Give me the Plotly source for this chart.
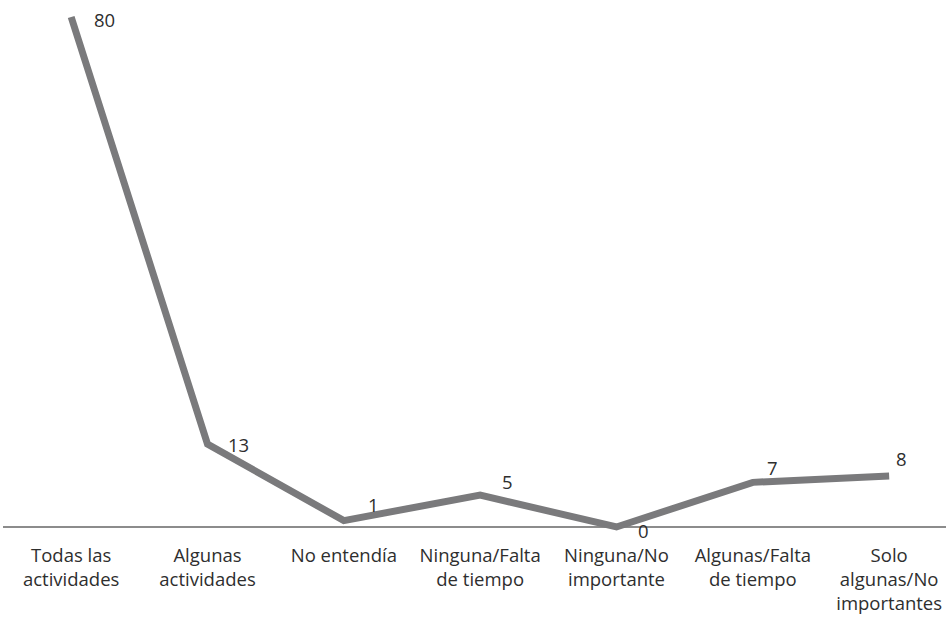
import plotly.graph_objects as go

categories = ["Todas las<br>actividades", "Algunas<br>actividades", "No entendía",
              "Ninguna/Falta<br>de tiempo", "Ninguna/No<br>importante",
              "Algunas/Falta<br>de tiempo", "Solo<br>algunas/No<br>importantes"]
values = [80, 13, 1, 5, 0, 7, 8]
label_shift_x = [33, 31, 30, 27, 27, 20, 12]
label_shift_y = [-3, 0, 16, 14, -4, 15, 17]

FONT = "Open Sans"
x = list(range(len(values)))

fig = go.Figure()
fig.add_trace(go.Scatter(
    x=x, y=values, mode="lines",
    line=dict(color="#7a7a7c", width=7),
    hoverinfo="skip", showlegend=False,
))

for xi, v, dx, dy in zip(x, values, label_shift_x, label_shift_y):
    fig.add_annotation(x=xi, y=v, text=str(v), showarrow=False,
                       xshift=dx, yshift=dy,
                       font=dict(family=FONT, size=18.5, color="#2e2e2e"))

fig.update_layout(
    width=946, height=623,
    margin=dict(l=3, r=0, t=8, b=83),
    paper_bgcolor="white", plot_bgcolor="white",
    font=dict(family=FONT, size=18.5, color="#2e2e2e"),
    xaxis=dict(range=[-0.5, 6.417], tickmode="array", tickvals=x, ticktext=categories,
               showgrid=False, zeroline=False, showline=False, ticks="", ticklabelstandoff=2),
    yaxis=dict(range=[-2.04, 81.41], showgrid=False, showticklabels=False,
               zeroline=True, zerolinecolor="#8c8c8c", zerolinewidth=2, showline=False),
)

fig.write_html("out.html", config={"displayModeBar": False},
               default_width="946px", default_height="623px",
               post_script="document.body.style.margin='0';document.body.style.overflow='hidden';")
